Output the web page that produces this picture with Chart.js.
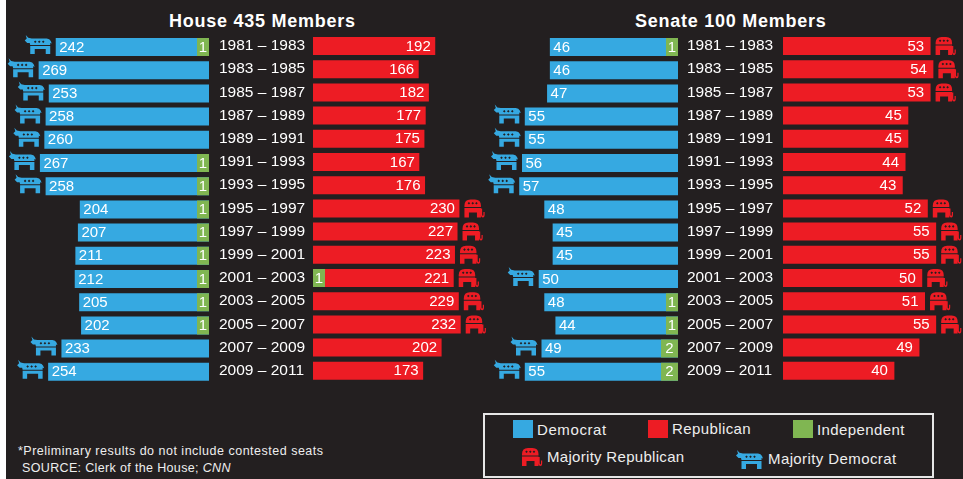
<!DOCTYPE html>
<html>
<head>
<meta charset="utf-8">
<script src="https://cdn.jsdelivr.net/npm/chart.js@4"></script>
<style>
  html, body { margin: 0; padding: 0; width: 963px; height: 479px; overflow: hidden; background: #231f20; }
  body { position: relative; font-family: "Liberation Sans", Arial, sans-serif; color: #fff; }
  canvas { position: absolute; }
  .strip { position: absolute; left: 0; top: 0; width: 6px; height: 479px; background: #fff; }
  .t { position: absolute; white-space: nowrap; line-height: 1; }
  .title { font-weight: bold; font-size: 18px; letter-spacing: .75px; top: 12px; }
  .foot { font-size: 12.5px; letter-spacing: .35px; color: #eee; }
  .leg { font-size: 15px; letter-spacing: .4px; color: #eee; }
  .sw { position: absolute; width: 20px; height: 18px; top: 420px; }
  .box { position: absolute; left: 483px; top: 413px; width: 447px; height: 61px; border: 2px solid #e6e6e6; }
  svg { position: absolute; overflow: visible; }
</style>
</head>
<body>
<div class="strip"></div>
<div class="t title" style="left:169px">House 435 Members</div>
<div class="t title" style="left:635px">Senate 100 Members</div>

<canvas id="hd" width="209" height="349" style="left:0;top:35px"></canvas>
<canvas id="hr" width="285" height="349" style="left:219px;top:34px"></canvas>
<canvas id="sd" width="195" height="349" style="left:483px;top:35px"></canvas>
<canvas id="sr" width="277" height="349" style="left:687px;top:34px"></canvas>

<div class="t foot" style="left:18px;top:445px;letter-spacing:.5px">*Preliminary results do not include contested seats</div>
<div class="t foot" style="left:22px;top:462px">SOURCE: Clerk of the House; <i>CNN</i></div>

<div class="box"></div>
<div class="sw" style="left:513px;background:#36a9e1"></div>
<div class="t leg" style="left:537px;top:422px;letter-spacing:.6px">Democrat</div>
<div class="sw" style="left:648px;background:#ed1c24"></div>
<div class="t leg" style="left:672px;top:421px">Republican</div>
<div class="sw" style="left:793px;background:#80b652"></div>
<div class="t leg" style="left:817px;top:422px">Independent</div>
<svg id="legE" style="left:522px;top:448px" width="20" height="18"><path fill="#ed1c24" fill-rule="evenodd"/></svg>
<div class="t leg" style="left:547px;top:449px;letter-spacing:.3px">Majority Republican</div>
<svg id="legD" style="left:736px;top:450px" width="27" height="19"><path fill="#36a9e1" fill-rule="evenodd"/></svg>
<div class="t leg" style="left:768px;top:451px">Majority Democrat</div>

<script>
const terms = ["1981 – 1983","1983 – 1985","1985 – 1987","1987 – 1989","1989 – 1991","1991 – 1993","1993 – 1995","1995 – 1997","1997 – 1999","1999 – 2001","2001 – 2003","2003 – 2005","2005 – 2007","2007 – 2009","2009 – 2011"];
const houseDem = [242,269,253,258,260,267,258,204,207,211,212,205,202,233,254];
const houseRep = [192,166,182,177,175,167,176,230,227,223,221,229,232,202,173];
const houseIndDemSide = [1,0,0,0,0,1,1,1,1,1,1,1,1,0,0];
const houseIndRepSide = [0,0,0,0,0,0,0,0,0,0,1,0,0,0,0];
const senateDem = [46,46,47,55,55,56,57,48,45,45,50,48,44,49,55];
const senateRep = [53,54,53,45,45,44,43,52,55,55,50,51,55,49,40];
const senateInd = [1,0,0,0,0,0,0,0,0,0,0,1,1,2,2];
const senateIndRepSide = [0,0,0,0,0,0,0,0,0,0,0,0,0,0,0];

const BLUE = "#36a9e1", RED = "#ed1c24", GREEN = "#80b652", INK = "#ffffff";
const FONT = '"Liberation Sans", Arial, sans-serif';

const stars = (xs, y) => xs.map(x => `M${x} ${y-1.3}l1.3 1.3l-1.3 1.3l-1.3 -1.3Z`).join("");
const DONKEY = "M1 0L3.5 2.8L7 3.5H22Q25 3.5 26 6L27 8.5L25.5 8V10H5.5L5 8H2.5L0 5.5L2 3.5Z" +
  "M5.5 11H25.5V19H21V14H10V19H5.5Z" + stars([10.5,14.5,18.5], 6.7);
const ELEPHANT = "M0 6Q0 0 6 0H10.5Q16.5 0 16.5 6V7.5H0Z" +
  "M0 8.5H16.5V18H12.5V13H4.5V18H0Z" +
  "M16.5 9H17.7V15Q17.7 16.4 18.5 16.4Q19 16.4 19 15V12.5H20.2V15Q20.2 18 18.5 18Q16.5 18 16.5 15Z" +
  stars([4.5,8.3,12], 3.8);
document.querySelector("#legD path").setAttribute("d", DONKEY);
document.querySelector("#legE path").setAttribute("d", ELEPHANT);

function panel(id, cfg) {
  const values = cfg.values, ind = cfg.ind, other = cfg.other, otherInd = cfg.otherInd;
  const isDem = cfg.side === "dem";
  const marksPlugin = {
    id: "marks",
    afterDatasetsDraw(chart) {
      const ctx = chart.ctx;
      const bars = chart.getDatasetMeta(1).data;
      const tabs = chart.getDatasetMeta(0).data;
      ctx.save();
      ctx.font = "15px " + FONT;
      ctx.fillStyle = INK;
      ctx.textBaseline = "middle";
      bars.forEach((bar, i) => {
        const y = bar.y + 0.5;
        const mine = values[i] + (isDem ? ind[i] : 0);
        const theirs = other[i] + (isDem ? 0 : otherInd[i]);
        if (isDem) {
          ctx.textAlign = "left";
          ctx.fillText(values[i], bar.x + 3.5, y);
        } else {
          ctx.textAlign = "right";
          ctx.fillText(values[i], bar.x - cfg.inset, y);
        }
        if (ind[i]) {
          ctx.textAlign = "center";
          ctx.fillText(ind[i], (tabs[i].x + tabs[i].base) / 2, y);
        }
        const wins = mine >= theirs;
        if (wins) {
          ctx.save();
          ctx.fillStyle = isDem ? BLUE : RED;
          if (isDem) ctx.translate(bar.x - 31, bar.y - 12);
          else ctx.translate(bar.x + 5, bar.y - 9);
          ctx.fill(new Path2D(isDem ? DONKEY : ELEPHANT), "evenodd");
          ctx.restore();
        }
      });
      ctx.restore();
    }
  };
  new Chart(document.getElementById(id), {
    type: "bar",
    plugins: [marksPlugin],
    data: {
      labels: terms,
      datasets: [
        { label: "Independent", xAxisID: "xInd", backgroundColor: GREEN, order: 0,
          data: ind.map(v => v ? Math.sqrt(v) : null) },
        { label: isDem ? "Democrat" : "Republican", xAxisID: "x", backgroundColor: isDem ? BLUE : RED, order: 1,
          data: values }
      ]
    },
    options: {
      indexAxis: "y",
      responsive: false,
      animation: false,
      layout: { padding: { top: 0.4, bottom: 0.6, left: 0, right: 0 } },
      plugins: { legend: { display: false }, tooltip: { enabled: false }, title: { display: false } },
      datasets: { bar: { grouped: false, barThickness: 18, inflateAmount: 0 } },
      scales: {
        x: { type: "linear", display: false, min: 0, max: cfg.max, reverse: isDem },
        xInd: { type: "linear", display: false, min: 0, max: cfg.plotWidth / 12, reverse: isDem },
        y: isDem ? { display: false } : {
          display: true,
          grid: { display: false, drawTicks: false },
          border: { display: false },
          afterFit(s) { s.width = cfg.axisWidth; s.paddingTop = 0; s.paddingBottom = 0; },
          ticks: { autoSkip: false, color: INK, crossAlign: "far", padding: 0,
                   font: { family: FONT, size: 15.5 } }
        }
      }
    }
  });
}

panel("hd", { side: "dem", values: houseDem, ind: houseIndDemSide, other: houseRep, otherInd: houseIndRepSide, max: 330, plotWidth: 209 });
panel("hr", { side: "rep", values: houseRep, ind: houseIndRepSide, other: houseDem.map((v, i) => v + houseIndDemSide[i]), otherInd: houseIndRepSide.map(() => 0), max: 300, plotWidth: 191, axisWidth: 94, inset: 4.5 });
panel("sd", { side: "dem", values: senateDem, ind: senateInd, other: senateRep, otherInd: senateIndRepSide, max: 70, plotWidth: 195 });
panel("sr", { side: "rep", values: senateRep, ind: senateIndRepSide, other: senateDem.map((v, i) => v + senateInd[i]), otherInd: senateIndRepSide, max: 65, plotWidth: 181, axisWidth: 96, inset: 6.5 });
</script>
</body>
</html>
